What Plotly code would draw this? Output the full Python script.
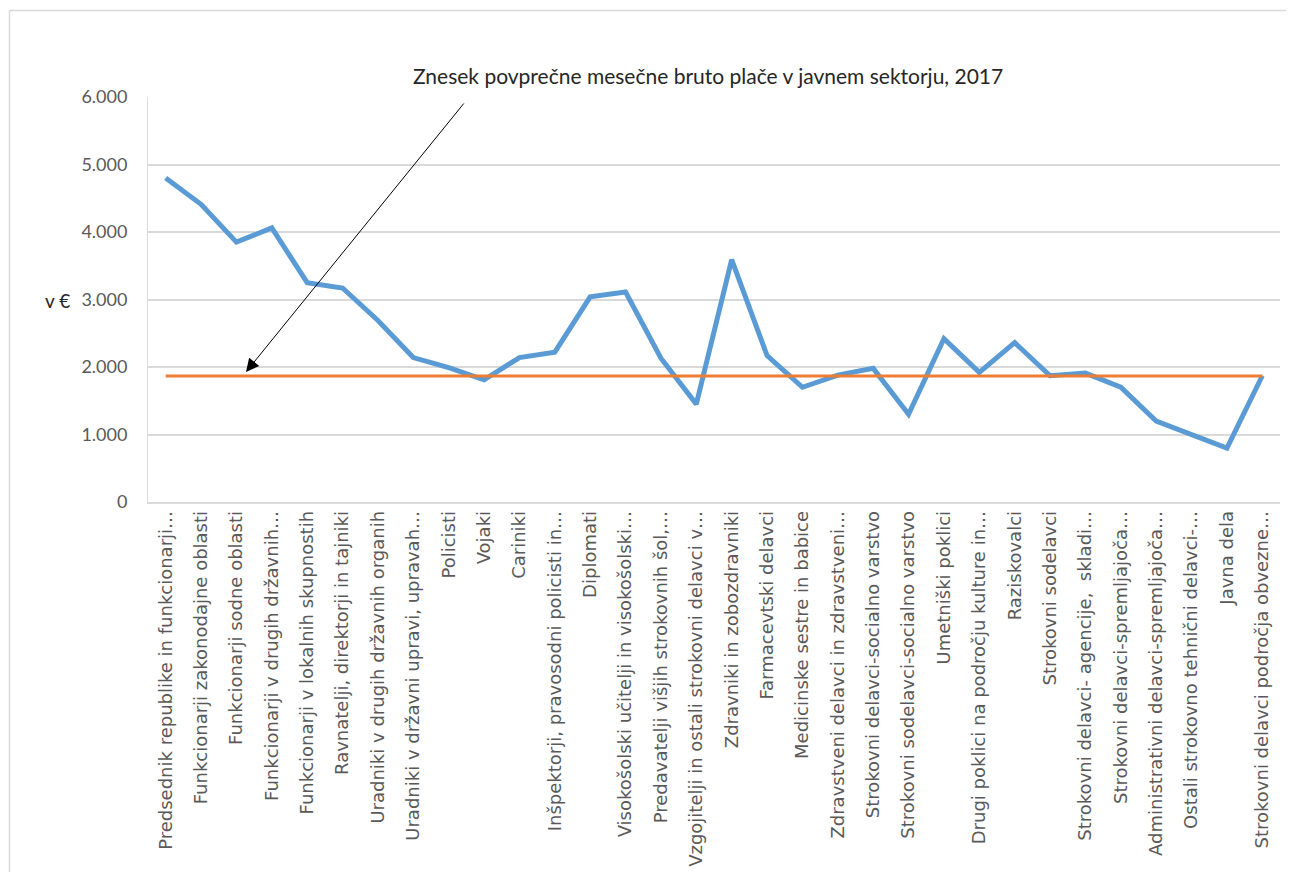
import plotly.graph_objects as go

categories = [
    "Predsednik republike in funkcionarji…",
    "Funkcionarji zakonodajne oblasti",
    "Funkcionarji sodne oblasti",
    "Funkcionarji v drugih državnih…",
    "Funkcionarji v lokalnih skupnostih",
    "Ravnatelji, direktorji in tajniki",
    "Uradniki v drugih državnih organih",
    "Uradniki v državni upravi, upravah…",
    "Policisti",
    "Vojaki",
    "Cariniki",
    "Inšpektorji, pravosodni policisti in…",
    "Diplomati",
    "Visokošolski učitelji in visokošolski…",
    "Predavatelji višjih strokovnih šol,…",
    "Vzgojitelji in ostali strokovni delavci v…",
    "Zdravniki in zobozdravniki",
    "Farmacevtski delavci",
    "Medicinske sestre in babice",
    "Zdravstveni delavci in zdravstveni…",
    "Strokovni delavci-socialno varstvo",
    "Strokovni sodelavci-socialno varstvo",
    "Umetniški poklici",
    "Drugi poklici na področju kulture in…",
    "Raziskovalci",
    "Strokovni sodelavci",
    "Strokovni delavci- agencije,  skladi…",
    "Strokovni delavci-spremljajoča…",
    "Administrativni delavci-spremljajoča…",
    "Ostali strokovno tehnični delavci-…",
    "Javna dela",
    "Strokovni delavci področja obvezne…",
]

plače = [4800, 4410, 3850, 4060, 3250, 3170, 2690, 2140, 1990, 1810, 2140,
         2220, 3040, 3110, 2130, 1450, 3590, 2170, 1700, 1880, 1980, 1300,
         2420, 1920, 2360, 1870, 1910, 1700, 1200, 1000, 800, 1870]

povprecje_javni_sektor = 1867

y_ticks = [0, 1000, 2000, 3000, 4000, 5000, 6000]
y_tick_labels = ["0", "1.000", "2.000", "3.000", "4.000", "5.000", "6.000"]

naslov = "Znesek povprečne mesečne bruto plače v javnem sektorju, 2017"
enota = "v €"

# page has an 8px body margin; target geometry is in window pixels
O = 8
WIN_W, WIN_H = 1294, 872
W, H = WIN_W - O, WIN_H - O
L, R, T, B = 148 - O, 1280 - O, 97 - O, 502 - O


def px(x):
    return (x - O - L) / (R - L)


def py(y):
    return (B - (y - O)) / (B - T)


fig = go.Figure()
fig.add_trace(go.Scatter(
    x=categories, y=plače, mode="lines",
    line=dict(color="#5B9BD5", width=5), showlegend=False,
))
fig.add_trace(go.Scatter(
    x=categories, y=[povprecje_javni_sektor] * len(categories), mode="lines",
    line=dict(color="#ED7D31", width=3), showlegend=False,
))

fig.update_layout(
    width=W, height=H,
    margin=dict(l=L, r=W - R, t=T, b=H - B, autoexpand=False),
    plot_bgcolor="white", paper_bgcolor="white",
    font=dict(family="Lato", color="#595959"),
)
fig.update_xaxes(
    type="category", tickangle=-90, automargin=False,
    tickfont=dict(family="DejaVu Sans", size=18, color="#595959"),
    showgrid=False, showline=True, linecolor="#d9d9d9", linewidth=1.5,
    ticks="",
    range=[-0.5, len(categories) - 0.5],
)
fig.update_yaxes(
    range=[0, 6000], tickvals=y_ticks, ticktext=y_tick_labels,
    automargin=False,
    tickfont=dict(family="Lato", size=18, color="#595959"),
    showgrid=True, gridcolor="#d9d9d9", gridwidth=1.5,
    showline=True, linecolor="#d6dce5", linewidth=1,
    ticks="outside", ticklen=16, tickcolor="rgba(0,0,0,0)",
    zeroline=False,
)

fig.add_annotation(
    text=naslov, xref="paper", yref="paper", x=px(708), y=py(75),
    xanchor="center", yanchor="middle", showarrow=False,
    font=dict(family="Lato", size=21, color="#262626"),
)
fig.add_annotation(
    text=enota, xref="paper", yref="paper", x=px(57), y=py(300),
    xanchor="center", yanchor="middle", showarrow=False,
    font=dict(family="Lato", size=19, color="#262626"),
)
# arrow pointing to the average line
fig.add_annotation(
    xref="paper", yref="paper", x=px(246), y=py(372),
    ax=465 - 246, ay=102 - 372, text="", showarrow=True,
    arrowhead=2, arrowsize=2.6, arrowwidth=1, arrowcolor="#000000",
)

# outer chart frame (left and top edges visible)
fig.add_shape(type="line", xref="paper", yref="paper",
              x0=px(9.5), x1=px(1294), y0=py(10.5), y1=py(10.5),
              line=dict(color="#d9d9d9", width=1.5))
fig.add_shape(type="line", xref="paper", yref="paper",
              x0=px(9.5), x1=px(9.5), y0=py(10.5), y1=py(872),
              line=dict(color="#d9d9d9", width=1.5))

fig.write_html("out.html")
